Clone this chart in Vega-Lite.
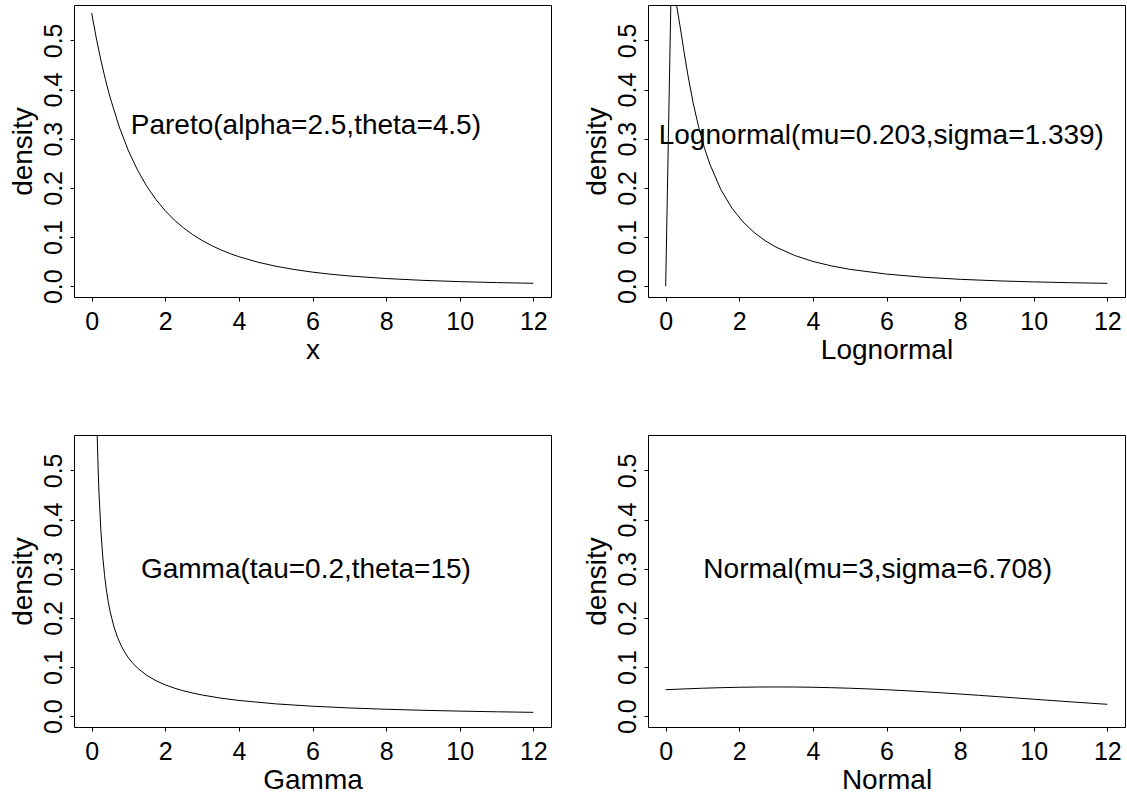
{
  "$schema": "https://vega.github.io/schema/vega-lite/v6.json",
  "background": "white",
  "padding": {"left": 8, "top": 4, "right": 1, "bottom": 5},
  "columns": 2,
  "spacing": {"row": 138, "column": 97},
  "bounds": "flush",
  "datasets": {
    "curves": [
      {"dist": "Pareto", "x": 0, "density": 0.5556},
      {"dist": "Pareto", "x": 0.125, "density": 0.5048},
      {"dist": "Pareto", "x": 0.25, "density": 0.4598},
      {"dist": "Pareto", "x": 0.375, "density": 0.4198},
      {"dist": "Pareto", "x": 0.5, "density": 0.3842},
      {"dist": "Pareto", "x": 0.75, "density": 0.3239},
      {"dist": "Pareto", "x": 1, "density": 0.2752},
      {"dist": "Pareto", "x": 1.25, "density": 0.2356},
      {"dist": "Pareto", "x": 1.5, "density": 0.2029},
      {"dist": "Pareto", "x": 1.75, "density": 0.1760},
      {"dist": "Pareto", "x": 2, "density": 0.1534},
      {"dist": "Pareto", "x": 2.25, "density": 0.1344},
      {"dist": "Pareto", "x": 2.5, "density": 0.1183},
      {"dist": "Pareto", "x": 2.75, "density": 0.1047},
      {"dist": "Pareto", "x": 3, "density": 0.0930},
      {"dist": "Pareto", "x": 3.25, "density": 0.0829},
      {"dist": "Pareto", "x": 3.5, "density": 0.0742},
      {"dist": "Pareto", "x": 3.75, "density": 0.0666},
      {"dist": "Pareto", "x": 4, "density": 0.0600},
      {"dist": "Pareto", "x": 4.5, "density": 0.0491},
      {"dist": "Pareto", "x": 5, "density": 0.0406},
      {"dist": "Pareto", "x": 5.5, "density": 0.0340},
      {"dist": "Pareto", "x": 6, "density": 0.0286},
      {"dist": "Pareto", "x": 6.5, "density": 0.0243},
      {"dist": "Pareto", "x": 7, "density": 0.0208},
      {"dist": "Pareto", "x": 8, "density": 0.01555},
      {"dist": "Pareto", "x": 9, "density": 0.01188},
      {"dist": "Pareto", "x": 10, "density": 0.00926},
      {"dist": "Pareto", "x": 11, "density": 0.00733},
      {"dist": "Pareto", "x": 12, "density": 0.00589},
      {"dist": "Lognormal", "x": 0, "density": 0},
      {"dist": "Lognormal", "x": 0.14, "density": 0.5730},
      {"dist": "Lognormal", "x": 0.28, "density": 0.5796},
      {"dist": "Lognormal", "x": 0.42, "density": 0.5153},
      {"dist": "Lognormal", "x": 0.5, "density": 0.4763},
      {"dist": "Lognormal", "x": 0.6, "density": 0.4308},
      {"dist": "Lognormal", "x": 0.75, "density": 0.3715},
      {"dist": "Lognormal", "x": 0.9, "density": 0.3224},
      {"dist": "Lognormal", "x": 1.05, "density": 0.2819},
      {"dist": "Lognormal", "x": 1.2, "density": 0.2483},
      {"dist": "Lognormal", "x": 1.5, "density": 0.1964},
      {"dist": "Lognormal", "x": 1.8, "density": 0.1588},
      {"dist": "Lognormal", "x": 2.1, "density": 0.1308},
      {"dist": "Lognormal", "x": 2.4, "density": 0.1094},
      {"dist": "Lognormal", "x": 2.7, "density": 0.0927},
      {"dist": "Lognormal", "x": 3, "density": 0.0794},
      {"dist": "Lognormal", "x": 3.5, "density": 0.0626},
      {"dist": "Lognormal", "x": 4, "density": 0.0504},
      {"dist": "Lognormal", "x": 4.5, "density": 0.0413},
      {"dist": "Lognormal", "x": 5, "density": 0.0343},
      {"dist": "Lognormal", "x": 6, "density": 0.0246},
      {"dist": "Lognormal", "x": 7, "density": 0.01824},
      {"dist": "Lognormal", "x": 8, "density": 0.01395},
      {"dist": "Lognormal", "x": 9, "density": 0.01092},
      {"dist": "Lognormal", "x": 10, "density": 0.00871},
      {"dist": "Lognormal", "x": 11, "density": 0.00707},
      {"dist": "Lognormal", "x": 12, "density": 0.00581},
      {"dist": "Gamma", "x": 0.1, "density": 0.7943},
      {"dist": "Gamma", "x": 0.12, "density": 0.6856},
      {"dist": "Gamma", "x": 0.15, "density": 0.5724},
      {"dist": "Gamma", "x": 0.175, "density": 0.5051},
      {"dist": "Gamma", "x": 0.2, "density": 0.4532},
      {"dist": "Gamma", "x": 0.25, "density": 0.3778},
      {"dist": "Gamma", "x": 0.3, "density": 0.3255},
      {"dist": "Gamma", "x": 0.35, "density": 0.2867},
      {"dist": "Gamma", "x": 0.4, "density": 0.2568},
      {"dist": "Gamma", "x": 0.45, "density": 0.2330},
      {"dist": "Gamma", "x": 0.5, "density": 0.2134},
      {"dist": "Gamma", "x": 0.6, "density": 0.1832},
      {"dist": "Gamma", "x": 0.7, "density": 0.1609},
      {"dist": "Gamma", "x": 0.8, "density": 0.1436},
      {"dist": "Gamma", "x": 0.9, "density": 0.1299},
      {"dist": "Gamma", "x": 1, "density": 0.1186},
      {"dist": "Gamma", "x": 1.1, "density": 0.1091},
      {"dist": "Gamma", "x": 1.25, "density": 0.0975},
      {"dist": "Gamma", "x": 1.5, "density": 0.0829},
      {"dist": "Gamma", "x": 1.75, "density": 0.0721},
      {"dist": "Gamma", "x": 2, "density": 0.0637},
      {"dist": "Gamma", "x": 2.25, "density": 0.0570},
      {"dist": "Gamma", "x": 2.5, "density": 0.0515},
      {"dist": "Gamma", "x": 2.75, "density": 0.0470},
      {"dist": "Gamma", "x": 3, "density": 0.0431},
      {"dist": "Gamma", "x": 3.5, "density": 0.0368},
      {"dist": "Gamma", "x": 4, "density": 0.0320},
      {"dist": "Gamma", "x": 5, "density": 0.02506},
      {"dist": "Gamma", "x": 6, "density": 0.02026},
      {"dist": "Gamma", "x": 7, "density": 0.01675},
      {"dist": "Gamma", "x": 8, "density": 0.01409},
      {"dist": "Gamma", "x": 9, "density": 0.01199},
      {"dist": "Gamma", "x": 10, "density": 0.01031},
      {"dist": "Gamma", "x": 11, "density": 0.00894},
      {"dist": "Gamma", "x": 12, "density": 0.00780},
      {"dist": "Normal", "x": 0, "density": 0.05381},
      {"dist": "Normal", "x": 0.5, "density": 0.05548},
      {"dist": "Normal", "x": 1, "density": 0.05689},
      {"dist": "Normal", "x": 1.5, "density": 0.05800},
      {"dist": "Normal", "x": 2, "density": 0.05882},
      {"dist": "Normal", "x": 2.5, "density": 0.05931},
      {"dist": "Normal", "x": 3, "density": 0.05947},
      {"dist": "Normal", "x": 3.5, "density": 0.05931},
      {"dist": "Normal", "x": 4, "density": 0.05882},
      {"dist": "Normal", "x": 4.5, "density": 0.05800},
      {"dist": "Normal", "x": 5, "density": 0.05689},
      {"dist": "Normal", "x": 5.5, "density": 0.05548},
      {"dist": "Normal", "x": 6, "density": 0.05381},
      {"dist": "Normal", "x": 6.5, "density": 0.05190},
      {"dist": "Normal", "x": 7, "density": 0.04979},
      {"dist": "Normal", "x": 7.5, "density": 0.04749},
      {"dist": "Normal", "x": 8, "density": 0.04505},
      {"dist": "Normal", "x": 8.5, "density": 0.04249},
      {"dist": "Normal", "x": 9, "density": 0.03987},
      {"dist": "Normal", "x": 9.5, "density": 0.03719},
      {"dist": "Normal", "x": 10, "density": 0.03450},
      {"dist": "Normal", "x": 10.5, "density": 0.03183},
      {"dist": "Normal", "x": 11, "density": 0.02920},
      {"dist": "Normal", "x": 11.5, "density": 0.02665},
      {"dist": "Normal", "x": 12, "density": 0.02418}
    ],
    "notes": [
      {"dist": "Pareto", "x": 5.82, "density": 0.310, "label": "Pareto(alpha=2.5,theta=4.5)"},
      {"dist": "Lognormal", "x": 5.86, "density": 0.290, "label": "Lognormal(mu=0.203,sigma=1.339)"},
      {"dist": "Gamma", "x": 5.82, "density": 0.281, "label": "Gamma(tau=0.2,theta=15)"},
      {"dist": "Normal", "x": 5.76, "density": 0.281, "label": "Normal(mu=3,sigma=6.708)"}
    ]
  },
  "concat": [
    {
      "width": 477, "height": 292,
      "layer": [
        {"data": {"name": "curves"}, "transform": [{"filter": "datum.dist === 'Pareto'"}],
         "mark": {"type": "line", "color": "black", "strokeWidth": 1, "clip": true},
         "encoding": {
           "x": {"field": "x", "type": "quantitative", "scale": {"domain": [-0.48, 12.48], "nice": false, "zero": false}, "axis": {"values": [0, 2, 4, 6, 8, 10, 12], "title": "x"}},
           "y": {"field": "density", "type": "quantitative", "scale": {"domain": [-0.022, 0.572], "nice": false, "zero": false}, "axis": {"values": [0, 0.1, 0.2, 0.3, 0.4, 0.5], "format": ".1f", "title": "density"}}
         }},
        {"data": {"name": "notes"}, "transform": [{"filter": "datum.dist === 'Pareto'"}],
         "mark": {"type": "text", "fontSize": 28, "align": "center", "baseline": "alphabetic", "font": "Liberation Sans", "color": "black"},
         "encoding": {"x": {"field": "x", "type": "quantitative"}, "y": {"field": "density", "type": "quantitative"}, "text": {"field": "label"}}}
      ]
    },
    {
      "width": 477, "height": 292,
      "layer": [
        {"data": {"name": "curves"}, "transform": [{"filter": "datum.dist === 'Lognormal'"}],
         "mark": {"type": "line", "color": "black", "strokeWidth": 1, "clip": true},
         "encoding": {
           "x": {"field": "x", "type": "quantitative", "scale": {"domain": [-0.48, 12.48], "nice": false, "zero": false}, "axis": {"values": [0, 2, 4, 6, 8, 10, 12], "title": "Lognormal"}},
           "y": {"field": "density", "type": "quantitative", "scale": {"domain": [-0.022, 0.572], "nice": false, "zero": false}, "axis": {"values": [0, 0.1, 0.2, 0.3, 0.4, 0.5], "format": ".1f", "title": "density"}}
         }},
        {"data": {"name": "notes"}, "transform": [{"filter": "datum.dist === 'Lognormal'"}],
         "mark": {"type": "text", "fontSize": 28, "align": "center", "baseline": "alphabetic", "font": "Liberation Sans", "color": "black"},
         "encoding": {"x": {"field": "x", "type": "quantitative"}, "y": {"field": "density", "type": "quantitative"}, "text": {"field": "label"}}}
      ]
    },
    {
      "width": 477, "height": 292,
      "layer": [
        {"data": {"name": "curves"}, "transform": [{"filter": "datum.dist === 'Gamma'"}],
         "mark": {"type": "line", "color": "black", "strokeWidth": 1, "clip": true},
         "encoding": {
           "x": {"field": "x", "type": "quantitative", "scale": {"domain": [-0.48, 12.48], "nice": false, "zero": false}, "axis": {"values": [0, 2, 4, 6, 8, 10, 12], "title": "Gamma"}},
           "y": {"field": "density", "type": "quantitative", "scale": {"domain": [-0.022, 0.572], "nice": false, "zero": false}, "axis": {"values": [0, 0.1, 0.2, 0.3, 0.4, 0.5], "format": ".1f", "title": "density"}}
         }},
        {"data": {"name": "notes"}, "transform": [{"filter": "datum.dist === 'Gamma'"}],
         "mark": {"type": "text", "fontSize": 28, "align": "center", "baseline": "alphabetic", "font": "Liberation Sans", "color": "black"},
         "encoding": {"x": {"field": "x", "type": "quantitative"}, "y": {"field": "density", "type": "quantitative"}, "text": {"field": "label"}}}
      ]
    },
    {
      "width": 477, "height": 292,
      "layer": [
        {"data": {"name": "curves"}, "transform": [{"filter": "datum.dist === 'Normal'"}],
         "mark": {"type": "line", "color": "black", "strokeWidth": 1, "clip": true},
         "encoding": {
           "x": {"field": "x", "type": "quantitative", "scale": {"domain": [-0.48, 12.48], "nice": false, "zero": false}, "axis": {"values": [0, 2, 4, 6, 8, 10, 12], "title": "Normal"}},
           "y": {"field": "density", "type": "quantitative", "scale": {"domain": [-0.022, 0.572], "nice": false, "zero": false}, "axis": {"values": [0, 0.1, 0.2, 0.3, 0.4, 0.5], "format": ".1f", "title": "density"}}
         }},
        {"data": {"name": "notes"}, "transform": [{"filter": "datum.dist === 'Normal'"}],
         "mark": {"type": "text", "fontSize": 28, "align": "center", "baseline": "alphabetic", "font": "Liberation Sans", "color": "black"},
         "encoding": {"x": {"field": "x", "type": "quantitative"}, "y": {"field": "density", "type": "quantitative"}, "text": {"field": "label"}}}
      ]
    }
  ],
  "config": {
    "font": "Liberation Sans",
    "view": {"stroke": "black", "strokeWidth": 1},
    "axis": {
      "grid": false, "domain": false,
      "tickColor": "black", "tickSize": 4, "tickWidth": 1,
      "labelFont": "Liberation Sans", "labelFontSize": 25, "labelColor": "black",
      "titleFont": "Liberation Sans", "titleFontSize": 28, "titleFontWeight": "normal", "titleColor": "black"
    },
    "axisX": {"labelPadding": 8, "titlePadding": 2},
    "axisY": {"labelAngle": -90, "labelAlign": "center", "labelBaseline": "alphabetic", "labelPadding": 9, "titlePadding": 4}
  }
}
